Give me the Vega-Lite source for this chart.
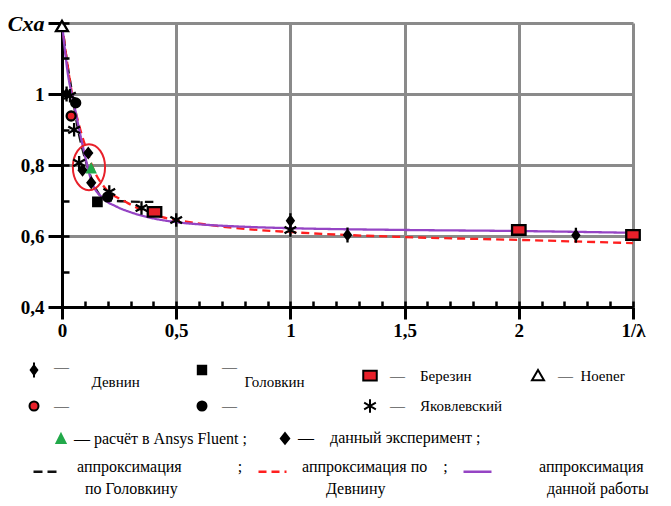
{
  "$schema": "https://vega.github.io/schema/vega-lite/v6.json",
  "width": 571,
  "height": 284,
  "autosize": {"type": "none"},
  "padding": {"left": 62, "top": 23, "right": 38, "bottom": 199},
  "background": "white",
  "config": {
    "view": {"stroke": null},
    "font": "Liberation Serif",
    "legend": {"labelFont": "Liberation Serif", "labelFontSize": 16, "labelColor": "black", "symbolStrokeWidth": 2, "symbolOpacity": 1, "title": null, "labelLimit": 400}
  },
  "datasets": {
    "curves": [
      {"approx": "golovkin", "x": 0, "y": 1.2},
      {"approx": "golovkin", "x": 0.02, "y": 1.1},
      {"approx": "golovkin", "x": 0.045, "y": 1.0},
      {"approx": "golovkin", "x": 0.07, "y": 0.9},
      {"approx": "golovkin", "x": 0.1, "y": 0.82},
      {"approx": "golovkin", "x": 0.13, "y": 0.76},
      {"approx": "golovkin", "x": 0.16, "y": 0.72},
      {"approx": "golovkin", "x": 0.2, "y": 0.701},
      {"approx": "golovkin", "x": 0.3, "y": 0.697},
      {"approx": "golovkin", "x": 0.4, "y": 0.696},
      {"approx": "devnin", "x": 0, "y": 1.2},
      {"approx": "devnin", "x": 0.02, "y": 1.1},
      {"approx": "devnin", "x": 0.05, "y": 0.98},
      {"approx": "devnin", "x": 0.08, "y": 0.9},
      {"approx": "devnin", "x": 0.105, "y": 0.848},
      {"approx": "devnin", "x": 0.14, "y": 0.785},
      {"approx": "devnin", "x": 0.185, "y": 0.738},
      {"approx": "devnin", "x": 0.28, "y": 0.696},
      {"approx": "devnin", "x": 0.44, "y": 0.653},
      {"approx": "devnin", "x": 0.58, "y": 0.637},
      {"approx": "devnin", "x": 0.75, "y": 0.623},
      {"approx": "devnin", "x": 1.0, "y": 0.611},
      {"approx": "devnin", "x": 1.5, "y": 0.597},
      {"approx": "devnin", "x": 2.0, "y": 0.589},
      {"approx": "devnin", "x": 2.5, "y": 0.58},
      {"approx": "work", "x": 0, "y": 1.2},
      {"approx": "work", "x": 0.01, "y": 1.14},
      {"approx": "work", "x": 0.025, "y": 1.06},
      {"approx": "work", "x": 0.05, "y": 0.98},
      {"approx": "work", "x": 0.088, "y": 0.862},
      {"approx": "work", "x": 0.132, "y": 0.75},
      {"approx": "work", "x": 0.18, "y": 0.706},
      {"approx": "work", "x": 0.238, "y": 0.683},
      {"approx": "work", "x": 0.3, "y": 0.667},
      {"approx": "work", "x": 0.383, "y": 0.652},
      {"approx": "work", "x": 0.5, "y": 0.639},
      {"approx": "work", "x": 0.6, "y": 0.633},
      {"approx": "work", "x": 0.8, "y": 0.626},
      {"approx": "work", "x": 1.0, "y": 0.622},
      {"approx": "work", "x": 1.5, "y": 0.617},
      {"approx": "work", "x": 2.0, "y": 0.614},
      {"approx": "work", "x": 2.5, "y": 0.609}
    ],
    "lit": [
      {"src": "Девнин1", "x": 0.02, "y": 1.0},
      {"src": "Девнин1", "x": 1.0, "y": 0.643},
      {"src": "Девнин1", "x": 1.25, "y": 0.603},
      {"src": "Девнин1", "x": 2.25, "y": 0.602},
      {"src": "Девнин2", "x": 0.04, "y": 0.938},
      {"src": "Головкин1", "x": 0.155, "y": 0.696},
      {"src": "Головкин2", "x": 0.06, "y": 0.975},
      {"src": "Головкин2", "x": 0.2, "y": 0.71},
      {"src": "Березин", "x": 0.405, "y": 0.668},
      {"src": "Березин", "x": 2.0, "y": 0.617},
      {"src": "Березин", "x": 2.5, "y": 0.603},
      {"src": "Яковлевский", "x": 0.035, "y": 0.995},
      {"src": "Яковлевский", "x": 0.053, "y": 0.899},
      {"src": "Яковлевский", "x": 0.075, "y": 0.806},
      {"src": "Яковлевский", "x": 0.207, "y": 0.724},
      {"src": "Яковлевский", "x": 0.348, "y": 0.679},
      {"src": "Яковлевский", "x": 0.5, "y": 0.645},
      {"src": "Яковлевский", "x": 1.0, "y": 0.617},
      {"src": "Hoener", "x": 0.0, "y": 1.19}
    ],
    "work": [
      {"src2": "эксперимент", "x": 0.115, "y": 0.834},
      {"src2": "эксперимент", "x": 0.09, "y": 0.785},
      {"src2": "эксперимент", "x": 0.128, "y": 0.75},
      {"src2": "Ansys", "x": 0.128, "y": 0.79}
    ],
    "ring": [{"x": 0.118, "y": 0.794}]
  },
  "layer": [
    {
      "data": {"name": "curves"},
      "mark": {"type": "line", "interpolate": "monotone", "strokeWidth": 2.3},
      "encoding": {
        "x": {"field": "x", "type": "quantitative", "scale": {"domain": [0, 2.5], "nice": false, "zero": false},
          "axis": {"orient": "bottom", "values": [0,0.1,0.2,0.3,0.4,0.5,0.6,0.7,0.8,0.9,1,1.1,1.2,1.3,1.4,1.5,1.6,1.7,1.8,1.9,2,2.1,2.2,2.3,2.4,2.5], "labels": false, "grid": false, "domain": false, "ticks": true, "tickSize": -6, "tickWidth": 2.5, "tickColor": "black", "title": null, "zindex": 1}},
        "y": {"field": "y", "type": "quantitative", "scale": {"domain": [0.4, 1.2], "nice": false, "zero": false},
          "axis": {"orient": "left", "values": [0.4,0.5,0.6,0.7,0.8,0.9,1.0,1.1,1.2], "labels": false, "grid": false, "domain": false, "ticks": true, "tickSize": -7, "tickWidth": 2.5, "tickColor": "black", "title": null, "zindex": 1}},
        "color": {"field": "approx", "type": "nominal", "scale": {"domain": ["golovkin", "devnin", "work"], "range": ["#111111", "#ff1f1f", "#9544c4"]},
          "legend": {"orient": "none", "legendX": -30, "legendY": 433, "direction": "horizontal", "symbolType": "stroke", "symbolSize": 784, "symbolStrokeWidth": 2.5, "labelOffset": 14, "columnPadding": 10, "labelBaseline": "alphabetic",
            "encode": {"labels": {"update": {"lineHeight": {"value": 22}, "font": {"value": "Liberation Serif"}, "fontSize": {"value": 16}}}},
            "labelExpr": "datum.value == 'golovkin' ? ['аппроксимация\u2002\u2002\u2002\u2002\u2002\u2002\u2002;', '\u200b\u2002по Головкину'] : datum.value == 'devnin' ? ['аппроксимация по\u2002\u2002;\u2002\u2002\u2002\u2002\u2002', '\u200b\u2002\u2002\u2002Девнину'] : ['\u200b\u2002\u2002\u2002\u2002аппроксимация', '\u200b\u2002\u2002\u2002\u2002\u2002данной работы']"}},
        "strokeDash": {"field": "approx", "type": "nominal", "scale": {"domain": ["golovkin", "devnin", "work"], "range": [[9, 5], [8, 5], [1, 0]]},
          "legend": {"orient": "none", "legendX": -30, "legendY": 433, "direction": "horizontal", "symbolType": "stroke", "symbolSize": 784, "symbolStrokeWidth": 2.5, "labelOffset": 14, "columnPadding": 10, "labelBaseline": "alphabetic",
            "encode": {"labels": {"update": {"lineHeight": {"value": 22}, "font": {"value": "Liberation Serif"}, "fontSize": {"value": 16}}}},
            "labelExpr": "datum.value == 'golovkin' ? ['аппроксимация\u2002\u2002\u2002\u2002\u2002\u2002\u2002;', '\u200b\u2002по Головкину'] : datum.value == 'devnin' ? ['аппроксимация по\u2002\u2002;\u2002\u2002\u2002\u2002\u2002', '\u200b\u2002\u2002\u2002Девнину'] : ['\u200b\u2002\u2002\u2002\u2002аппроксимация', '\u200b\u2002\u2002\u2002\u2002\u2002данной работы']"}}
      }
    },
    {
      "data": {"name": "ring"},
      "mark": {"type": "point", "shape": "M-0.7,0A0.7,1 0 1,1 0.7,0A0.7,1 0 1,1 -0.7,0Z", "size": 2116, "filled": false, "stroke": "#e8202a", "strokeWidth": 2, "opacity": 1},
      "encoding": {
        "x": {"field": "x", "type": "quantitative", "axis": null},
        "y": {"field": "y", "type": "quantitative", "axis": null}
      }
    },
    {
      "data": {"name": "lit"},
      "mark": {"type": "point", "size": 900, "strokeWidth": 2.3, "opacity": 1, "filled": true},
      "encoding": {
        "x": {"field": "x", "type": "quantitative",
          "axis": {"orient": "bottom", "values": [0, 0.5, 1, 1.5, 2, 2.5], "format": ".1~f", "labelExpr": "datum.value == 2.5 ? '1/λ' : replace(datum.label, '.', ',')", "grid": true, "gridColor": "#8a8a8a", "gridWidth": 3, "domainColor": "black", "domainWidth": 3, "tickColor": "black", "tickWidth": 3, "tickSize": 12, "labelFont": "Liberation Serif", "labelFontWeight": "bold", "labelFontSize": 19, "labelPadding": 2, "labelColor": "black", "labelFlush": false, "labelOverlap": false, "title": null}},
        "y": {"field": "y", "type": "quantitative",
          "axis": {"orient": "left", "values": [0.4, 0.6, 0.8, 1.0, 1.2], "format": ".1~f", "labelExpr": "datum.value > 1.19 ? 'Cxa' : replace(datum.label, '.', ',')", "grid": true, "gridColor": "#8a8a8a", "gridWidth": 3, "domainColor": "black", "domainWidth": 3, "tickColor": "black", "tickWidth": 3, "tickSize": 14, "labelFont": "Liberation Serif", "labelFontWeight": "bold", "labelFontSize": {"condition": {"test": "datum.value > 1.19", "value": 22}, "value": 19}, "labelFontStyle": {"condition": {"test": "datum.value > 1.19", "value": "italic"}, "value": "normal"}, "labelPadding": 4, "labelColor": "black", "labelFlush": false, "labelOverlap": false, "title": null}},
        "shape": {"field": "src", "type": "nominal",
          "scale": {"domain": ["Девнин1", "Головкин1", "Березин", "Hoener", "Девнин2", "Головкин2", "Яковлевский"],
            "range": ["M0,-0.5V0.5M0,-0.3L0.22,0L0,0.3L-0.22,0Z", "M-0.28,-0.28H0.28V0.28H-0.28Z", "M-0.45,-0.32H0.45V0.32H-0.45Z", "M0,-0.38L0.4,0.3L-0.4,0.3Z", "M-0.3,0A0.3,0.3 0 1,1 0.3,0A0.3,0.3 0 1,1 -0.3,0Z", "M-0.3,0A0.3,0.3 0 1,1 0.3,0A0.3,0.3 0 1,1 -0.3,0Z", "M0,-0.45V0.45M-0.39,-0.22L0.39,0.22M-0.39,0.22L0.39,-0.22"]},
          "legend": {"orient": "none", "legendX": -44, "legendY": 331, "direction": "horizontal", "columns": 4, "gridAlign": "all", "symbolSize": 900, "labelOffset": 4, "columnPadding": 19, "rowPadding": 0,
            "encode": {"labels": {"update": {"font": {"value": "Liberation Serif"}, "fontSize": {"value": 15}, "lineHeight": {"value": 15}, "baseline": {"signal": "datum.value == 'Девнин1' || datum.value == 'Головкин1' ? 'top' : 'middle'"}, "dy": {"signal": "datum.value == 'Девнин1' || datum.value == 'Головкин1' ? -10 : 0"}}}},
            "labelExpr": "{'Девнин1': ['—', '\u200b\u2002\u2002\u2002\u2002\u2002Девнин'], 'Головкин1': ['—', '\u200b\u2002\u2002\u2002Головкин'], 'Березин': '—\u2002\u2002Березин', 'Hoener': '—\u2002Hoener', 'Девнин2': '—', 'Головкин2': '—', 'Яковлевский': '—\u2002\u2002Яковлевский'}[datum.value]"}},
        "fill": {"field": "src", "type": "nominal",
          "scale": {"domain": ["Девнин1", "Головкин1", "Березин", "Hoener", "Девнин2", "Головкин2", "Яковлевский"],
            "range": ["black", "black", "#e8202a", "white", "#e8202a", "black", "transparent"]},
          "legend": {"orient": "none", "legendX": -44, "legendY": 331, "direction": "horizontal", "columns": 4, "gridAlign": "all", "symbolSize": 900, "labelOffset": 4, "columnPadding": 19, "rowPadding": 0,
            "encode": {"labels": {"update": {"font": {"value": "Liberation Serif"}, "fontSize": {"value": 15}, "lineHeight": {"value": 15}, "baseline": {"signal": "datum.value == 'Девнин1' || datum.value == 'Головкин1' ? 'top' : 'middle'"}, "dy": {"signal": "datum.value == 'Девнин1' || datum.value == 'Головкин1' ? -10 : 0"}}}},
            "labelExpr": "{'Девнин1': ['—', '\u200b\u2002\u2002\u2002\u2002\u2002Девнин'], 'Головкин1': ['—', '\u200b\u2002\u2002\u2002Головкин'], 'Березин': '—\u2002\u2002Березин', 'Hoener': '—\u2002Hoener', 'Девнин2': '—', 'Головкин2': '—', 'Яковлевский': '—\u2002\u2002Яковлевский'}[datum.value]"}},
        "stroke": {"field": "src", "type": "nominal",
          "scale": {"domain": ["Девнин1", "Головкин1", "Березин", "Hoener", "Девнин2", "Головкин2", "Яковлевский"],
            "range": ["black", "black", "black", "black", "black", "black", "black"]},
          "legend": {"orient": "none", "legendX": -44, "legendY": 331, "direction": "horizontal", "columns": 4, "gridAlign": "all", "symbolSize": 900, "labelOffset": 4, "columnPadding": 19, "rowPadding": 0,
            "encode": {"labels": {"update": {"font": {"value": "Liberation Serif"}, "fontSize": {"value": 15}, "lineHeight": {"value": 15}, "baseline": {"signal": "datum.value == 'Девнин1' || datum.value == 'Головкин1' ? 'top' : 'middle'"}, "dy": {"signal": "datum.value == 'Девнин1' || datum.value == 'Головкин1' ? -10 : 0"}}}},
            "labelExpr": "{'Девнин1': ['—', '\u200b\u2002\u2002\u2002\u2002\u2002Девнин'], 'Головкин1': ['—', '\u200b\u2002\u2002\u2002Головкин'], 'Березин': '—\u2002\u2002Березин', 'Hoener': '—\u2002Hoener', 'Девнин2': '—', 'Головкин2': '—', 'Яковлевский': '—\u2002\u2002Яковлевский'}[datum.value]"}}
      }
    },
    {
      "data": {"name": "work"},
      "mark": {"type": "point", "size": 900, "strokeWidth": 1.5, "opacity": 1, "filled": true},
      "encoding": {
        "x": {"field": "x", "type": "quantitative", "axis": null},
        "y": {"field": "y", "type": "quantitative", "axis": null},
        "shape": {"field": "src2", "type": "nominal",
          "scale": {"domain": ["Ansys", "эксперимент"], "range": ["M0,-0.32L0.3,0.28L-0.3,0.28Z", "M0,-0.35L0.28,0L0,0.35L-0.28,0Z"]},
          "legend": {"orient": "none", "legendX": -17, "legendY": 399, "direction": "horizontal", "symbolSize": 900, "labelOffset": -3, "columnPadding": 22,
            "encode": {"labels": {"update": {"font": {"value": "Liberation Serif"}, "fontSize": {"value": 16}}}},
            "labelExpr": "datum.value == 'Ansys' ? '— расчёт в Ansys Fluent ;' : '—\u2002\u2002данный эксперимент ;'"}},
        "fill": {"field": "src2", "type": "nominal",
          "scale": {"domain": ["Ansys", "эксперимент"], "range": ["#22a94a", "black"]},
          "legend": {"orient": "none", "legendX": -17, "legendY": 399, "direction": "horizontal", "symbolSize": 900, "labelOffset": -3, "columnPadding": 22,
            "encode": {"labels": {"update": {"font": {"value": "Liberation Serif"}, "fontSize": {"value": 16}}}},
            "labelExpr": "datum.value == 'Ansys' ? '— расчёт в Ansys Fluent ;' : '—\u2002\u2002данный эксперимент ;'"}},
        "stroke": {"field": "src2", "type": "nominal",
          "scale": {"domain": ["Ansys", "эксперимент"], "range": ["#22a94a", "black"]},
          "legend": {"orient": "none", "legendX": -17, "legendY": 399, "direction": "horizontal", "symbolSize": 900, "labelOffset": -3, "columnPadding": 22,
            "encode": {"labels": {"update": {"font": {"value": "Liberation Serif"}, "fontSize": {"value": 16}}}},
            "labelExpr": "datum.value == 'Ansys' ? '— расчёт в Ansys Fluent ;' : '—\u2002\u2002данный эксперимент ;'"}}
      }
    }
  ],
  "resolve": {
    "scale": {"shape": "independent", "fill": "independent", "stroke": "independent"},
    "legend": {"shape": "independent", "fill": "independent", "stroke": "independent"},
    "axis": {"x": "independent", "y": "independent"}
  }
}
